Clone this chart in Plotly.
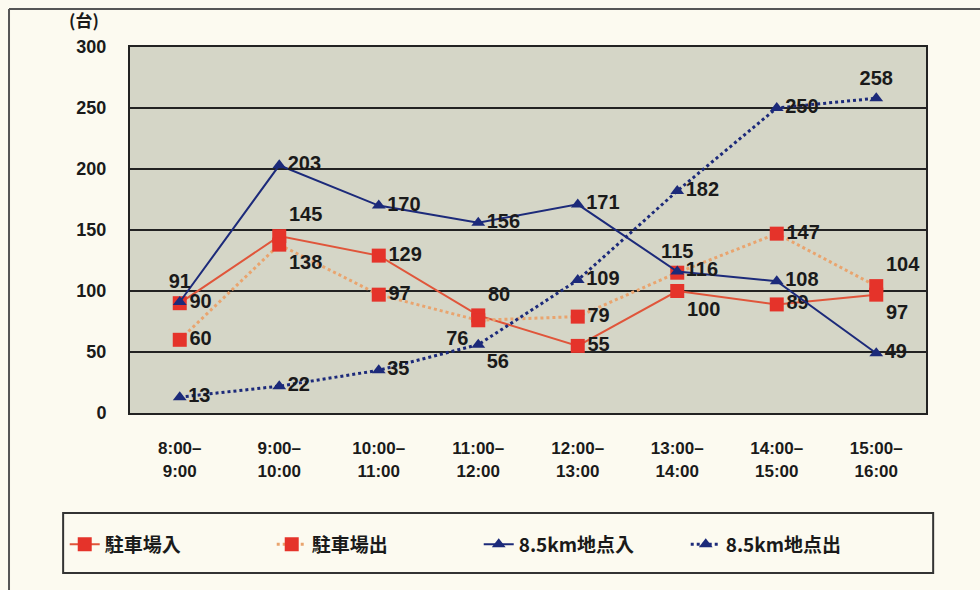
import plotly.graph_objects as go

# 時間帯（カテゴリ）
categories = ["8:00–<br>9:00", "9:00–<br>10:00", "10:00–<br>11:00", "11:00–<br>12:00",
              "12:00–<br>13:00", "13:00–<br>14:00", "14:00–<br>15:00", "15:00–<br>16:00"]

# 台数
parking_in = [90, 145, 129, 80, 55, 100, 89, 97]
parking_out = [60, 138, 97, 76, 79, 115, 147, 104]
point_in = [91, 203, 170, 156, 171, 116, 108, 49]
point_out = [13, 22, 35, 56, 109, 182, 250, 258]

# ラベル位置
pos_parking_in = ["middle right", "top right", "middle right", "top right",
                  "middle right", "bottom right", "middle right", "bottom right"]
pos_parking_out = ["middle right", "bottom right", "middle right", "bottom left",
                   "middle right", "top center", "middle right", "top right"]
pos_point_in = ["top center", "middle right", "middle right", "middle right",
                "middle right", "middle right", "middle right", "middle right"]
pos_point_out = ["middle right", "middle right", "middle right", "bottom right",
                 "middle right", "middle right", "middle right", "top center"]

RED = "#e5332a"
RED_LINE = "#e0553a"
RED_DOT = "#e9a46e"
NAVY = "#1c2a7a"
BG = "#fcfaf0"
NUM = "Liberation Sans, Arial, sans-serif"
JP = "Noto Sans CJK JP, sans-serif"
LABEL_FONT = dict(family=NUM, size=20, color="#1a1a1a", weight="bold")

fig = go.Figure()

fig.add_trace(go.Scatter(
    x=categories, y=parking_in, name="駐車場入", mode="lines+markers+text",
    line=dict(color=RED_LINE, width=2),
    marker=dict(symbol="square", size=14, color=RED),
    text=[str(v) for v in parking_in], textposition=pos_parking_in,
    textfont=LABEL_FONT,
))
fig.add_trace(go.Scatter(
    x=categories, y=parking_out, name="駐車場出", mode="lines+markers+text",
    line=dict(color=RED_DOT, width=3, dash="dot"),
    marker=dict(symbol="square", size=14, color=RED),
    text=[str(v) for v in parking_out], textposition=pos_parking_out,
    textfont=LABEL_FONT,
))
fig.add_trace(go.Scatter(
    x=categories, y=point_in, name="8.5km地点入", mode="lines+markers+text",
    line=dict(color=NAVY, width=2),
    marker=dict(symbol="triangle-up", size=12, color=NAVY),
    text=[str(v) for v in point_in], textposition=pos_point_in,
    textfont=LABEL_FONT,
))
fig.add_trace(go.Scatter(
    x=categories, y=point_out, name="8.5km地点出", mode="lines+markers+text",
    line=dict(color=NAVY, width=3, dash="dot"),
    marker=dict(symbol="triangle-up", size=12, color=NAVY),
    text=[str(v) for v in point_out], textposition=pos_point_out,
    textfont=LABEL_FONT,
))

fig.update_layout(
    width=980, height=590,
    margin=dict(l=130, r=54, t=47, b=177),
    paper_bgcolor=BG,
    plot_bgcolor="#d5d6c7",
    showlegend=True,
    legend=dict(
        orientation="h", x=-0.082, y=-0.307, xanchor="left", yanchor="top",
        bgcolor="rgba(0,0,0,0)", borderwidth=0,
        font=dict(family=JP, size=19, color="#1a1a1a", weight="bold"),
        entrywidth=162, itemwidth=30,
    ),
    xaxis=dict(
        showgrid=False, showline=True, linecolor="#222222", linewidth=2, mirror=True,
        ticks="", tickfont=dict(family=NUM, size=17, color="#1a1a1a", weight="bold"),
        ticklabelstandoff=19, range=[-0.5, 7.5],
    ),
    yaxis=dict(
        range=[0, 300], dtick=50, showgrid=True, gridcolor="#222222", gridwidth=2,
        showline=True, linecolor="#222222", linewidth=2, mirror=True, ticks="",
        tickfont=dict(family=NUM, size=18, color="#1a1a1a", weight="bold"),
        ticklabelstandoff=18, zeroline=False,
    ),
    annotations=[dict(
        text="(台)", xref="paper", yref="paper", x=-0.036, y=1.035,
        xanchor="right", yanchor="bottom", showarrow=False,
        font=dict(family=JP, size=17, color="#1a1a1a", weight="bold"),
    )],
    shapes=[
        # 外枠
        dict(type="line", xref="paper", yref="paper", x0=-0.152, x1=1.07, y0=1.104, y1=1.104,
             line=dict(color="#555555", width=2)),
        dict(type="line", xref="paper", yref="paper", x0=-0.152, x1=-0.152, y0=1.104, y1=-0.49,
             line=dict(color="#555555", width=2)),
        # 凡例枠
        dict(type="rect", xref="paper", yref="paper", x0=-0.084, x1=1.009, y0=-0.273, y1=-0.437,
             line=dict(color="#333333", width=2), fillcolor="rgba(0,0,0,0)"),
    ],
)

fig.write_html("out.html")
